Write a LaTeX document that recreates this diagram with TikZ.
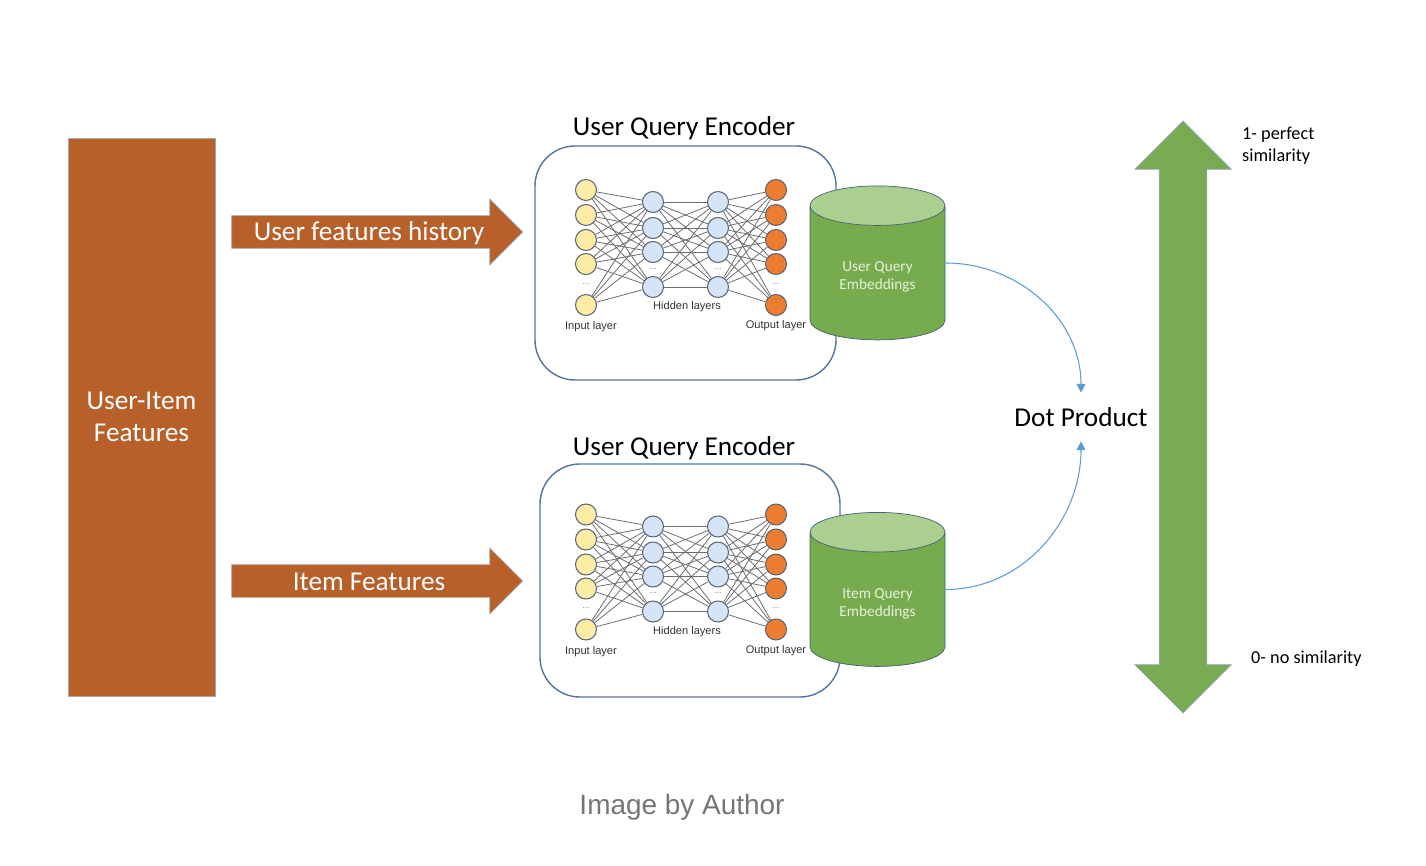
\documentclass[tikz,border=0pt]{standalone}
\usepackage{fontspec}
\setmainfont{Carlito}
\newfontfamily\nnfont{Liberation Sans}
\usetikzlibrary{positioning,shapes.geometric,shapes.arrows,arrows.meta}

\definecolor{featbrown}{RGB}{183,96,41}
\definecolor{encline}{RGB}{84,114,156}
\definecolor{embbody}{RGB}{118,171,78}
\definecolor{embtop}{RGB}{170,207,142}
\definecolor{embline}{RGB}{68,96,118}
\definecolor{embtext}{RGB}{232,242,222}
\definecolor{simgreen}{RGB}{121,171,82}
\definecolor{dotblue}{RGB}{91,155,213}
\definecolor{inyellow}{RGB}{253,236,166}
\definecolor{hidblue}{RGB}{214,228,248}
\definecolor{outorange}{RGB}{237,125,49}
\definecolor{unitline}{RGB}{90,100,115}
\definecolor{captgray}{RGB}{117,117,117}

\tikzset{
  bigtxt/.style={font=\fontsize{15.5}{18}\selectfont},
  featbox/.style={draw=gray!70, fill=featbrown, text=white, bigtxt,
    minimum width=2.94cm, minimum height=11.16cm, align=center},
  featarrow/.style={single arrow, draw=gray!70, fill=featbrown, text=white, bigtxt,
    minimum height=5.82cm, single arrow head extend=0.33cm,
    inner ysep=0pt, text height=0.5cm, text depth=0.14cm},
  encbox/.style={draw=encline, rounded corners=0.8cm, thick},
  enctitle/.style={bigtxt},
  unit/.style={circle, draw=unitline, line width=0.6pt, minimum size=0.42cm, inner sep=0pt},
  inunit/.style={unit, fill=inyellow},
  hidunit/.style={unit, fill=hidblue},
  outunit/.style={unit, fill=outorange},
  link/.style={draw=gray!85!black, line width=0.45pt},
  nndots/.style={font=\nnfont\fontsize{5}{5}\selectfont, text=gray, inner sep=0pt},
  layertxt/.style={font=\nnfont\fontsize{6.3}{7}\selectfont, text=black!80},
  emb/.style={cylinder, shape border rotate=90, aspect=0.45, draw=embline,
    cylinder uses custom fill, cylinder body fill=embbody, cylinder end fill=embtop,
    minimum width=2.7cm, minimum height=3.08cm, text=embtext, align=center,
    font=\fontsize{8.7}{10.2}\selectfont},
  dotarrow/.style={draw=dotblue, line width=0.6pt, -{Triangle[width=5pt,length=5pt]}},
  simarrow/.style={double arrow, rotate=90, draw=encline!60, fill=simgreen,
    minimum height=11.84cm, double arrow head extend=0.49cm,
    inner sep=0pt, text height=0.94cm, text depth=0pt, text width=0pt},
  simtxt/.style={font=\fontsize{10.4}{12.5}\selectfont, align=left},
}

\begin{document}
\begin{tikzpicture}[x=0.2mm,y=0.2mm]
    \useasboundingbox (0,0) rectangle (1426,-866);

    % features and inputs
    \node[featbox] (feat) at (141.5,-417) {User-Item\\Features};
    \node[featarrow] (uhist) at (369,-232) {User features history};
    \node[featarrow] (ifeat) at (369,-581) {Item Features};

    % encoders
    \node[encbox, minimum width=6.02cm, minimum height=4.68cm] (uenc) at (685.5,-263) {};
    \node[enctitle] (uenc-t) at (684,-128) {User Query Encoder};
    \node[encbox, minimum width=6cm, minimum height=4.66cm] (ienc) at (690,-580.5) {};
    \node[enctitle] (ienc-t) at (684,-448) {User Query Encoder};

    % the two small networks
    \foreach \n/\dy in {u/0,i/324.5}{
      \foreach \k/\y in {1/190,2/215,3/240,4/264,5/305}{
        \node[inunit] (\n-in-\k) at (586,-\y-\dy) {};
        \node[outunit] (\n-out-\k) at (776,-\y-\dy) {};
      }
      \foreach \k/\y in {1/202,2/228,3/252,4/287}{
        \node[hidunit] (\n-ha-\k) at (653,-\y-\dy) {};
        \node[hidunit] (\n-hb-\k) at (718,-\y-\dy) {};
      }
      \foreach \a in {1,...,5}
        \foreach \b in {1,...,4}
          \draw[link] (\n-in-\a) -- (\n-ha-\b);
      \foreach \a in {1,...,4}
        \foreach \b in {1,...,4}
          \draw[link] (\n-ha-\a) -- (\n-hb-\b);
      \foreach \a in {1,...,4}
        \foreach \b in {1,...,5}
          \draw[link] (\n-hb-\a) -- (\n-out-\b);
      \node[nndots] (\n-in-dots) at (586,-284-\dy) {...};
      \node[nndots] (\n-ha-dots) at (653,-269-\dy) {...};
      \node[nndots] (\n-hb-dots) at (718,-269-\dy) {...};
      \node[nndots] (\n-out-dots) at (776,-284-\dy) {...};
      \node[layertxt] (\n-in-lab) at (591,-327-\dy) {Input layer};
      \node[layertxt] (\n-hid-lab) at (687,-307-\dy) {Hidden layers};
      \node[layertxt] (\n-out-lab) at (776,-326-\dy) {Output layer};
    }

    % embeddings
    \node[emb] (uemb) at (877.5,-277) {User Query\\Embeddings};
    \node[emb] (iemb) at (877.5,-603.5) {Item Query\\Embeddings};

    % dot product
    \node[bigtxt, minimum height=0.96cm] (dot) at (1081,-417) {Dot Product};
    \draw[dotarrow] ([yshift=2.8mm]uemb.east) to[out=0,in=90] (dot.north);
    \draw[dotarrow] ([yshift=2.8mm]iemb.east) to[out=0,in=-90] (dot.south);

    % similarity scale
    \node[simarrow] (sim) at (1183,-417) {};
    \node[simtxt, anchor=west] (simhi) at (1236,-146) {1- perfect\\similarity};
    \node[simtxt, anchor=west] (simlo) at (1245,-659) {0- no similarity};

    \node[font=\nnfont\fontsize{15.9}{18}\selectfont, text=captgray] (capt) at (682,-807) {Image by Author};
\end{tikzpicture}
\end{document}
